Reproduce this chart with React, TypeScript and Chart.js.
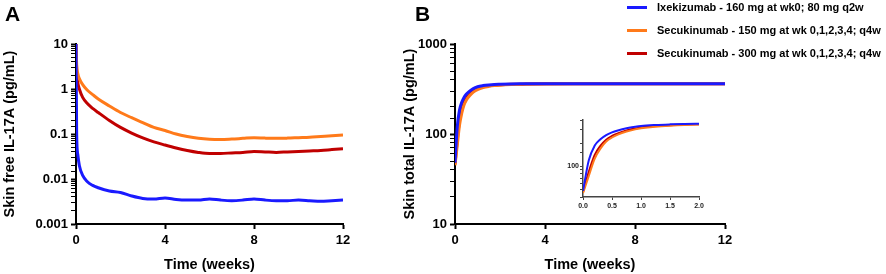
import React, { useEffect, useRef } from "react";
import { Chart, registerables } from "chart.js";
Chart.register(...registerables);

const FONT = "'Liberation Sans', Arial, Helvetica, sans-serif";

// Panel A: skin free IL-17A
const timeA = [0, 0.03, 0.08, 0.15, 0.3, 0.5, 0.75, 1, 1.5, 2, 2.5, 3, 3.5, 4, 4.5, 5, 5.5, 6, 6.5, 7, 7.5, 8, 8.5, 9, 9.5, 10, 10.5, 11, 11.5, 12];
const ixeA = [10, 0.1, 0.035, 0.02, 0.012, 0.0088, 0.0072, 0.0064, 0.0054, 0.005, 0.0042, 0.0037, 0.0036, 0.0038, 0.0035, 0.0034, 0.0034, 0.0036, 0.0034, 0.0033, 0.0034, 0.0036, 0.0034, 0.0033, 0.0033, 0.0034, 0.0033, 0.0032, 0.0033, 0.0034];
const secu150A = [10, 3.5, 2.2, 1.7, 1.25, 0.95, 0.75, 0.6, 0.42, 0.3, 0.23, 0.18, 0.14, 0.12, 0.1, 0.088, 0.08, 0.076, 0.075, 0.077, 0.08, 0.083, 0.081, 0.08, 0.081, 0.083, 0.085, 0.088, 0.091, 0.095];
const secu300A = [10, 2.5, 1.4, 1.0, 0.65, 0.48, 0.37, 0.3, 0.2, 0.14, 0.105, 0.082, 0.067, 0.057, 0.049, 0.043, 0.039, 0.037, 0.037, 0.038, 0.039, 0.041, 0.04, 0.039, 0.04, 0.041, 0.042, 0.043, 0.045, 0.047];
const yTicksA = ["0.001", "0.01", "0.1", "1", "10"];

// Panel B: skin total IL-17A
const timeB = [0, 0.1, 0.2, 0.3, 0.4, 0.5, 0.6, 0.75, 0.9, 1, 1.25, 1.5, 1.75, 2, 2.5, 3, 4, 6, 8, 10, 12];
const ixeB = [48, 120, 185, 225, 255, 276, 292, 312, 327, 335, 345, 351, 355, 357, 360, 361, 362, 362, 362, 362, 362];
const secu150B = [45, 75, 125, 170, 210, 237, 258, 283, 302, 312, 328, 338, 345, 349, 354, 357, 360, 361, 362, 362, 362];
const secu300B = [46, 85, 140, 185, 222, 248, 268, 292, 310, 320, 334, 343, 349, 352, 356, 358, 361, 362, 362, 362, 362];
const yTicksB = ["10", "100", "1000"];
const insetYTicks = ["100"];

const xTicks = [0, 4, 8, 12];
const seriesNames = [
  "Ixekizumab - 160 mg at wk0; 80 mg q2w",
  "Secukinumab - 150 mg at wk 0,1,2,3,4; q4w",
  "Secukinumab - 300 mg at wk 0,1,2,3,4; q4w",
];
const seriesColors = ["#1a1aff", "#ff7a1a", "#c00000"];

const pts = (t: number[], v: number[]) => t.map((x, i) => ({ x, y: v[i] }));

const isDecade = (v: number) => {
  const l = Math.log10(v);
  return Math.abs(l - Math.round(l)) < 1e-6;
};

function makeDatasets(t: number[], vals: number[][], width: number) {
  return vals.map((v, i) => ({
    label: seriesNames[i],
    data: pts(t, v),
    borderColor: seriesColors[i],
    borderWidth: width,
    pointRadius: 0,
    cubicInterpolationMode: "monotone" as const,
    fill: false,
  }));
}

function mainOptions(yMin: number, yMax: number, labels: string[], yTitle: string, chartLeft: number, rightPad: number) {
  const tickFont = { family: FONT, size: 13, weight: "bold" as const };
  const titleFont = { family: FONT, size: 14.5, weight: "bold" as const };
  return {
    responsive: false,
    animation: false as const,
    layout: { padding: { left: 0, right: rightPad, top: 44, bottom: 0 } },
    plugins: { legend: { display: false }, tooltip: { enabled: false } },
    scales: {
      x: {
        type: "linear" as const,
        min: 0,
        max: 12,
        afterBuildTicks: (s: any) => {
          s.ticks = xTicks.map((v) => ({ value: v }));
        },
        afterFit: (s: any) => {
          s.height = 50;
        },
        border: { display: true, color: "#000", width: 2 },
        grid: { display: true, drawOnChartArea: false, drawTicks: true, tickLength: 5, tickColor: "#000", tickWidth: 2 },
        ticks: { color: "#000", font: tickFont, padding: 4, maxRotation: 0 },
        title: { display: true, text: "Time (weeks)", color: "#000", font: titleFont, padding: { top: 3, bottom: 0 } },
      },
      y: {
        type: "logarithmic" as const,
        min: yMin,
        max: yMax,
        afterFit: (s: any) => {
          s.width = chartLeft;
        },
        border: { display: true, color: "#000", width: 2 },
        grid: {
          display: true,
          drawOnChartArea: false,
          drawTicks: true,
          tickLength: 5,
          tickColor: "#000",
          tickWidth: (ctx: any) => (ctx.tick && isDecade(ctx.tick.value) ? 2 : 1),
        },
        ticks: {
          color: "#000",
          font: tickFont,
          padding: 3,
          autoSkip: false,
          callback: (v: any) => {
            const n = Number(v);
            if (!isDecade(n)) return "";
            const idx = Math.round(Math.log10(n)) - Math.round(Math.log10(yMin));
            return labels[idx] ?? "";
          },
        },
        title: { display: true, text: yTitle, color: "#000", font: titleFont, padding: { top: 1, bottom: 1 } },
      },
    },
  };
}

export default function App() {
  const refA = useRef<HTMLCanvasElement>(null);
  const refB = useRef<HTMLCanvasElement>(null);
  const refI = useRef<HTMLCanvasElement>(null);

  useEffect(() => {
    document.body.style.margin = "0";
    const charts: Chart[] = [];
    charts.push(
      new Chart(refA.current!, {
        type: "line",
        data: { datasets: makeDatasets(timeA, [ixeA, secu150A, secu300A], 3) as any },
        options: mainOptions(0.001, 10, yTicksA, "Skin free IL-17A (pg/mL)", 76, 57) as any,
      })
    );
    charts.push(
      new Chart(refB.current!, {
        type: "line",
        data: { datasets: makeDatasets(timeB, [ixeB, secu150B, secu300B], 3) as any },
        options: mainOptions(10, 1000, yTicksB, "Skin total IL-17A (pg/mL)", 55, 161) as any,
      })
    );
    const insetFont = { family: FONT, size: 7, weight: "bold" as const };
    charts.push(
      new Chart(refI.current!, {
        type: "line",
        data: { datasets: makeDatasets(timeB, [ixeB, secu150B, secu300B], 2) as any },
        options: {
          responsive: false,
          animation: false,
          layout: { padding: { left: 0, right: 12, top: 10, bottom: 0 } },
          plugins: { legend: { display: false }, tooltip: { enabled: false } },
          scales: {
            x: {
              type: "linear",
              min: 0,
              max: 2,
              afterFit: (s: any) => {
                s.height = 23;
              },
              border: { display: true, color: "#444", width: 1.5 },
              grid: { display: true, drawOnChartArea: false, drawTicks: true, tickLength: 3, tickColor: "#444" },
              ticks: { stepSize: 0.5, color: "#222", font: insetFont, padding: 2, maxRotation: 0, callback: (v: any) => Number(v).toFixed(1) },
            },
            y: {
              type: "logarithmic",
              min: 40,
              max: 400,
              afterFit: (s: any) => {
                s.width = 28;
              },
              border: { display: true, color: "#444", width: 1.5 },
              grid: { display: true, drawOnChartArea: false, drawTicks: true, tickLength: 3, tickColor: "#444" },
              ticks: {
                color: "#222",
                font: insetFont,
                padding: 1,
                autoSkip: false,
                callback: (v: any) => (Math.abs(Number(v) - 100) < 1e-6 ? insetYTicks[0] : ""),
              },
            },
          },
        } as any,
      })
    );
    return () => charts.forEach((c) => c.destroy());
  }, []);

  const panelLabel: React.CSSProperties = {
    position: "absolute",
    fontFamily: FONT,
    fontWeight: "bold",
    fontSize: 21,
    lineHeight: "21px",
    color: "#000",
  };

  return (
    <div style={{ position: "absolute", left: 0, top: 0, width: 886, height: 274, background: "#fff", overflow: "hidden" }}>
      <canvas ref={refA} width={400} height={274} style={{ position: "absolute", left: 0, top: 0, width: 400, height: 274 }} />
      <canvas ref={refB} width={486} height={274} style={{ position: "absolute", left: 400, top: 0, width: 486, height: 274 }} />
      <canvas ref={refI} width={156} height={110} style={{ position: "absolute", left: 555, top: 110, width: 156, height: 110 }} />
      <div style={{ ...panelLabel, left: 5, top: 3 }}>A</div>
      <div style={{ ...panelLabel, left: 415, top: 3 }}>B</div>
      {seriesNames.map((name, i) => (
        <div key={name} style={{ position: "absolute", left: 627, top: 7 + i * 23 - 7, height: 14, display: "flex", alignItems: "center" }}>
          <div style={{ width: 20, height: 3, background: seriesColors[i], marginRight: 10 }} />
          <span style={{ fontFamily: FONT, fontWeight: "bold", fontSize: 11, color: "#000", whiteSpace: "nowrap" }}>{name}</span>
        </div>
      ))}
    </div>
  );
}
